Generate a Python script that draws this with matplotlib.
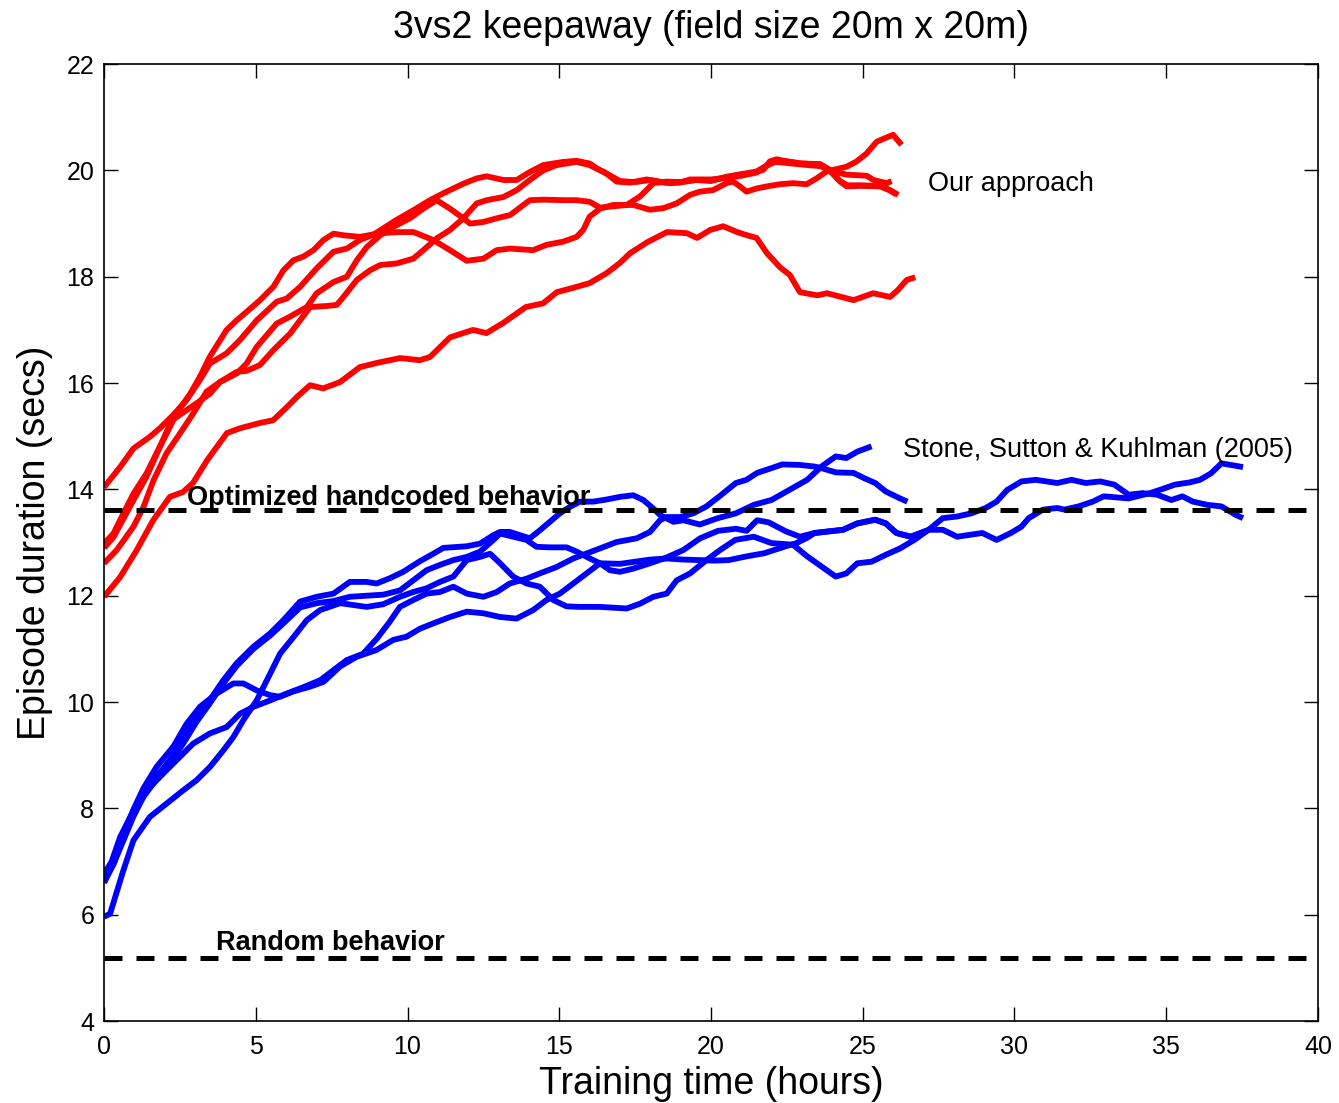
import numpy as np
import matplotlib.pyplot as plt

plt.rcParams['font.family'] = ['Liberation Sans', 'DejaVu Sans']

# red runs (our approach): (hours, secs)
red_a = [(0, 14.04), (0.53, 14.42), (0.97, 14.77), (1.51, 14.99), (1.84, 15.15), (2.28, 15.4),
         (2.72, 15.68), (3.16, 16.06), (3.49, 16.37), (4.04, 16.56), (4.48, 16.81), (5.03, 17.18),
         (5.69, 17.53), (6.02, 17.59), (6.46, 17.81), (7.01, 18.16), (7.56, 18.47), (8.0, 18.53),
         (8.43, 18.69), (8.9, 18.8), (9.64, 19.07), (10.19, 19.25), (10.74, 19.44), (11.18, 19.57),
         (11.84, 19.75), (12.28, 19.85), (12.61, 19.89), (13.16, 19.82), (13.6, 19.82), (14.03, 19.97),
         (14.47, 20.1), (15.13, 20.16), (15.57, 20.18), (16.0, 20.13), (16.23, 20.04), (16.56, 19.94),
         (16.89, 19.79), (17.33, 19.77), (17.88, 19.83), (18.21, 19.79), (18.65, 19.76), (18.98, 19.77),
         (19.31, 19.83), (19.63, 19.83), (20.07, 19.82), (20.51, 19.87), (20.95, 19.92), (21.39, 19.95),
         (21.72, 20.01), (21.94, 20.17), (22.16, 20.21), (22.49, 20.17), (22.93, 20.13), (23.59, 20.12),
         (23.92, 20.01), (24.25, 19.79), (24.47, 19.7), (24.91, 19.71), (25.57, 19.7), (25.9, 19.63),
         (26.17, 19.54)]
red_b = [(0, 12.98), (0.31, 13.17), (0.64, 13.55), (0.97, 13.92), (1.4, 14.3), (1.73, 14.68),
         (2.06, 15.05), (2.39, 15.43), (2.84, 15.8), (3.16, 16.12), (3.49, 16.5), (4.04, 17.0),
         (4.37, 17.18), (4.7, 17.34), (5.14, 17.56), (5.58, 17.81), (5.91, 18.12), (6.24, 18.31),
         (6.57, 18.38), (6.9, 18.5), (7.23, 18.69), (7.56, 18.81), (7.89, 18.78), (8.43, 18.75),
         (9.1, 18.82), (9.7, 18.84), (10.2, 18.84), (10.85, 18.69), (11.4, 18.5), (11.95, 18.3),
         (12.5, 18.34), (12.94, 18.5), (13.38, 18.53), (14.14, 18.5), (14.58, 18.6), (15.13, 18.66),
         (15.57, 18.75), (15.79, 18.88), (16.0, 19.13), (16.34, 19.28), (16.77, 19.35), (17.44, 19.35),
         (17.99, 19.26), (18.43, 19.29), (18.87, 19.38), (19.31, 19.54), (19.63, 19.6), (20.07, 19.63),
         (20.51, 19.76), (20.73, 19.79), (20.95, 19.7), (21.17, 19.6), (21.5, 19.66), (21.94, 19.71),
         (22.27, 19.74), (22.71, 19.76), (23.15, 19.74), (23.48, 19.85), (23.81, 19.98), (24.03, 20.01),
         (24.47, 20.07), (24.8, 20.17), (25.13, 20.32), (25.46, 20.54), (26.0, 20.67), (26.28, 20.48)]
red_c = [(0, 12.61), (0.42, 12.86), (0.97, 13.3), (1.3, 13.67), (1.63, 14.17), (2.06, 14.68),
         (2.5, 15.05), (2.94, 15.43), (3.38, 15.84), (3.82, 16.02), (4.37, 16.18), (4.7, 16.37),
         (5.03, 16.68), (5.69, 17.12), (6.13, 17.25), (6.68, 17.43), (7.01, 17.69), (7.56, 17.9),
         (8.0, 18.0), (8.33, 18.31), (8.66, 18.56), (9.1, 18.78), (9.64, 18.97), (10.08, 19.1),
         (10.52, 19.28), (10.96, 19.44), (11.4, 19.28), (11.84, 19.1), (12.06, 19.0), (12.5, 19.03),
         (12.94, 19.1), (13.38, 19.16), (13.82, 19.35), (14.03, 19.44), (14.47, 19.45), (15.13, 19.44),
         (15.57, 19.44), (16.0, 19.41), (16.34, 19.3), (17.22, 19.35), (17.66, 19.51), (18.1, 19.76),
         (18.54, 19.79), (19.0, 19.78), (19.5, 19.82), (20.0, 19.8), (20.5, 19.88), (21.0, 19.93),
         (21.5, 19.98), (21.8, 20.08), (22.1, 20.16), (22.5, 20.14), (23.0, 20.11), (23.6, 20.08),
         (24.03, 19.98), (24.47, 19.92), (25.13, 19.9), (25.35, 19.82), (25.79, 19.76), (25.95, 19.8)]
red_d = [(0, 12.9), (0.31, 13.1), (0.97, 13.8), (1.4, 14.24), (1.84, 14.8), (2.23, 15.3),
         (2.72, 15.49), (3.05, 15.62), (3.49, 15.8), (3.82, 16.02), (4.37, 16.21), (4.7, 16.23),
         (5.14, 16.34), (5.58, 16.62), (6.13, 16.93), (6.79, 17.43), (7.34, 17.45), (7.67, 17.47),
         (7.89, 17.62), (8.33, 17.94), (8.76, 18.12), (9.1, 18.22), (9.64, 18.25), (10.19, 18.34),
         (10.52, 18.5), (10.96, 18.72), (11.4, 18.88), (11.84, 19.1), (12.28, 19.38), (12.61, 19.44),
         (13.16, 19.5), (13.6, 19.63), (14.03, 19.82), (14.47, 20.0), (14.91, 20.1), (15.57, 20.16),
         (16.0, 20.1), (16.5, 19.96), (17.0, 19.8), (17.5, 19.78), (18.0, 19.82), (18.5, 19.77),
         (19.0, 19.78), (19.5, 19.82), (20.0, 19.83), (20.5, 19.86), (21.0, 19.9), (21.5, 19.96),
         (22.0, 20.15), (22.5, 20.17), (23.0, 20.13), (23.6, 20.11), (23.9, 20.0), (24.25, 19.8),
         (24.5, 19.72), (25.0, 19.72), (25.6, 19.7), (25.9, 19.62), (26.1, 19.55)]
red_e = [(0, 11.98), (0.53, 12.35), (1.08, 12.86), (1.62, 13.42), (2.17, 13.86), (2.6, 13.95),
         (2.93, 14.12), (3.4, 14.55), (4.05, 15.06), (4.48, 15.15), (5.14, 15.25), (5.57, 15.3),
         (6.03, 15.55), (6.36, 15.74), (6.79, 15.96), (7.22, 15.9), (7.78, 16.02), (8.43, 16.3),
         (9.0, 16.38), (9.75, 16.47), (10.4, 16.43), (10.74, 16.49), (11.4, 16.86), (12.16, 17.0),
         (12.6, 16.94), (13.15, 17.13), (13.9, 17.43), (14.47, 17.5), (14.92, 17.71), (15.45, 17.79),
         (16.0, 17.88), (16.57, 18.07), (17.0, 18.26), (17.33, 18.44), (17.9, 18.65), (18.55, 18.84),
         (19.2, 18.82), (19.54, 18.73), (19.97, 18.88), (20.4, 18.95), (20.86, 18.84), (21.19, 18.78),
         (21.5, 18.73), (21.85, 18.44), (22.27, 18.18), (22.6, 18.03), (22.93, 17.71), (23.5, 17.65),
         (23.82, 17.69), (24.7, 17.56), (25.34, 17.69), (25.9, 17.62), (26.16, 17.75), (26.45, 17.94),
         (26.73, 17.99)]

# blue runs (Stone, Sutton & Kuhlman 2005)
blue_a = [(0, 6.78), (0.31, 7.03), (0.64, 7.47), (0.97, 7.91), (1.3, 8.28), (1.73, 8.6), (2.17, 8.91),
          (2.61, 9.29), (3.05, 9.72), (3.49, 10.04), (3.93, 10.41), (4.37, 10.73), (4.92, 11.04),
          (5.47, 11.29), (5.91, 11.54), (6.46, 11.89), (7.01, 11.98), (7.56, 12.04), (8.1, 12.26),
          (8.65, 12.26), (8.98, 12.23), (9.42, 12.33), (9.86, 12.45), (10.41, 12.65), (10.85, 12.79),
          (11.18, 12.9), (11.95, 12.93), (12.39, 12.98), (12.83, 13.14), (13.05, 13.2), (13.37, 13.2),
          (13.7, 13.14), (14.03, 13.08), (14.36, 13.23), (14.69, 13.39), (15.02, 13.55), (15.35, 13.67),
          (15.68, 13.77), (16.12, 13.77), (16.56, 13.81), (17.0, 13.86), (17.44, 13.89), (17.77, 13.8),
          (18.1, 13.64), (18.32, 13.52), (18.76, 13.39), (19.09, 13.42), (19.63, 13.34), (20.23, 13.46),
          (20.82, 13.55), (21.41, 13.71), (21.99, 13.8), (22.58, 13.99), (23.17, 14.18), (23.64, 14.43),
          (24.11, 14.62), (24.46, 14.59), (24.82, 14.71), (25.29, 14.81)]
blue_b = [(0, 6.6), (0.31, 6.95), (0.64, 7.5), (0.97, 7.98), (1.3, 8.38), (1.73, 8.78), (2.28, 9.16),
          (2.72, 9.59), (3.16, 9.91), (3.71, 10.16), (4.26, 10.35), (4.59, 10.35), (5.03, 10.22),
          (5.47, 10.13), (5.8, 10.1), (6.24, 10.2), (6.79, 10.29), (7.23, 10.38), (7.78, 10.67),
          (8.32, 10.85), (8.98, 10.98), (9.53, 11.17), (9.97, 11.23), (10.41, 11.38), (10.85, 11.48),
          (11.4, 11.6), (11.95, 11.7), (12.5, 11.67), (13.05, 11.6), (13.59, 11.57), (14.14, 11.73),
          (14.58, 11.92), (15.02, 12.04), (15.46, 12.23), (15.9, 12.42), (16.34, 12.61), (17.0, 12.6),
          (17.5, 12.64), (18.0, 12.68), (18.54, 12.7), (19.09, 12.68), (19.64, 12.67), (20.1, 12.66),
          (20.58, 12.67), (21.17, 12.74), (21.76, 12.8), (22.46, 12.93), (22.82, 12.99), (23.2, 13.1),
          (23.41, 13.18), (24.35, 13.24), (24.82, 13.36), (25.41, 13.43), (25.76, 13.36), (26.11, 13.18),
          (26.58, 13.11), (27.1, 13.22)]
blue_c = [(0, 5.96), (0.2, 6.02), (0.64, 6.84), (0.97, 7.4), (1.51, 7.84), (2.06, 8.09), (2.61, 8.34),
          (3.05, 8.53), (3.49, 8.78), (3.93, 9.09), (4.26, 9.34), (4.59, 9.66), (5.03, 10.03),
          (5.47, 10.53), (5.8, 10.91), (6.24, 11.22), (6.68, 11.54), (7.12, 11.73), (7.78, 11.86),
          (8.65, 11.79), (9.2, 11.84), (9.75, 11.98), (10.19, 12.07), (10.63, 12.14), (11.07, 12.26),
          (11.51, 12.36), (11.95, 12.67), (12.39, 12.73), (12.72, 12.79), (13.05, 12.61), (13.48, 12.36),
          (13.92, 12.23), (14.36, 12.17), (14.8, 11.92), (15.24, 11.8), (15.68, 11.79), (16.34, 11.79),
          (17.22, 11.76), (17.66, 11.85), (18.1, 11.98), (18.54, 12.04), (18.87, 12.29), (19.31, 12.42),
          (19.85, 12.67), (20.3, 12.86), (20.8, 13.05), (21.41, 13.11), (21.99, 12.99), (22.7, 12.96),
          (23.17, 12.74), (23.64, 12.55), (24.11, 12.36), (24.46, 12.42), (24.82, 12.61), (25.29, 12.64),
          (25.76, 12.77), (26.23, 12.89), (26.7, 13.05), (27.17, 13.24), (27.64, 13.46), (28.11, 13.49),
          (28.58, 13.55), (29.05, 13.65), (29.41, 13.77), (29.76, 13.99), (30.23, 14.15), (30.7, 14.18),
          (31.41, 14.12), (31.88, 14.18), (32.35, 14.12), (32.82, 14.15), (33.29, 14.09), (33.76, 13.9),
          (34.23, 13.93), (34.7, 13.9), (35.17, 13.8), (35.53, 13.87), (35.88, 13.77), (36.35, 13.71),
          (36.82, 13.68), (37.29, 13.52), (37.53, 13.46)]
blue_d = [(0, 6.68), (0.31, 6.95), (0.64, 7.4), (0.97, 7.85), (1.3, 8.22), (1.73, 8.55), (2.17, 8.86),
          (2.61, 9.22), (3.05, 9.63), (3.49, 9.98), (3.93, 10.35), (4.37, 10.68), (4.92, 11.0),
          (5.47, 11.25), (5.91, 11.48), (6.46, 11.78), (7.01, 11.86), (7.56, 11.9), (8.1, 11.98),
          (8.65, 12.0), (9.2, 12.02), (9.75, 12.1), (10.19, 12.29), (10.63, 12.48), (11.07, 12.58),
          (11.51, 12.67), (11.95, 12.73), (12.39, 12.83), (12.83, 13.05), (13.05, 13.17), (13.48, 13.11),
          (13.92, 13.05), (14.25, 12.92), (14.69, 12.91), (15.24, 12.91), (15.57, 12.83), (16.01, 12.7),
          (16.34, 12.61), (16.67, 12.48), (17.0, 12.45), (17.44, 12.51), (17.99, 12.61), (18.54, 12.72),
          (19.09, 12.86), (19.64, 13.08), (20.23, 13.22), (20.82, 13.26), (21.17, 13.22), (21.52, 13.42),
          (21.9, 13.38), (22.47, 13.21), (22.93, 13.11), (23.41, 13.18), (24.35, 13.24), (24.82, 13.36),
          (25.41, 13.43), (25.76, 13.36), (26.11, 13.18), (26.58, 13.11), (27.17, 13.24), (27.64, 13.24),
          (28.11, 13.11), (28.58, 13.15), (28.94, 13.18), (29.41, 13.05), (29.88, 13.18), (30.23, 13.3),
          (30.47, 13.46), (30.94, 13.62), (31.41, 13.65), (31.64, 13.62), (32.11, 13.68), (32.58, 13.77),
          (32.94, 13.87), (33.76, 13.83), (34.47, 13.93), (34.94, 14.02), (35.29, 14.09), (35.76, 14.13),
          (36.11, 14.18), (36.47, 14.3), (36.82, 14.49), (37.53, 14.42)]
blue_e = [(0, 6.72), (0.25, 7.0), (0.53, 7.46), (0.97, 7.96), (1.51, 8.4), (2.06, 8.72), (2.5, 8.97),
          (2.94, 9.22), (3.49, 9.41), (4.04, 9.53), (4.48, 9.78), (4.92, 9.91), (5.47, 10.03),
          (6.02, 10.16), (6.57, 10.28), (7.12, 10.41), (7.56, 10.6), (8.0, 10.79), (8.54, 10.91),
          (9.0, 11.2), (9.4, 11.5), (9.75, 11.79), (10.19, 11.92), (10.63, 12.04), (11.07, 12.07),
          (11.51, 12.17), (11.95, 12.04), (12.5, 11.98), (12.94, 12.07), (13.37, 12.23), (13.92, 12.32),
          (14.36, 12.42), (14.91, 12.54), (15.46, 12.7), (16.34, 12.89), (16.89, 13.01), (17.55, 13.08),
          (17.99, 13.2), (18.32, 13.42), (18.54, 13.48), (18.98, 13.48), (19.42, 13.55), (19.85, 13.68),
          (20.3, 13.88), (20.82, 14.12), (21.17, 14.18), (21.52, 14.31), (21.99, 14.4), (22.35, 14.47),
          (22.93, 14.46), (23.41, 14.43), (23.64, 14.4), (24.11, 14.32), (24.7, 14.31), (25.05, 14.21),
          (25.41, 14.12), (25.76, 13.96), (26.23, 13.83), (26.47, 13.77)]

red_runs = [red_a, red_b, red_c, red_d, red_e]
blue_runs = [blue_a, blue_b, blue_c, blue_d, blue_e]

handcoded_level = 13.61
random_level = 5.18

fig = plt.figure(figsize=(13.39, 11.03), dpi=100)
ax = fig.add_axes([0.0777, 0.0743, 0.9066, 0.8676])

for run in red_runs:
    pts = np.array(run)
    ax.plot(pts[:, 0], pts[:, 1], color='#ff0000', lw=4.2,
            solid_joinstyle='round', solid_capstyle='butt')
for run in blue_runs:
    pts = np.array(run)
    ax.plot(pts[:, 0], pts[:, 1], color='#0000ff', lw=4.2,
            solid_joinstyle='round', solid_capstyle='butt')

ax.axhline(handcoded_level, color='black', lw=3.6, linestyle=(0, (3.6, 2.8)))
ax.axhline(random_level, color='black', lw=3.6, linestyle=(0, (3.6, 2.8)))

ax.text(2.73, 13.7, 'Optimized handcoded behavior', fontsize=19.5, fontweight='bold')
ax.text(3.69, 5.34, 'Random behavior', fontsize=19.5, fontweight='bold')
ax.text(27.15, 19.74, 'Our approach', fontsize=19.5, va='center')
ax.text(26.33, 14.74, 'Stone, Sutton & Kuhlman (2005)', fontsize=19.5, va='center')

ax.set_xlim(0, 40)
ax.set_ylim(4, 22)
ax.set_xticks(np.arange(0, 41, 5))
ax.set_yticks(np.arange(4, 23, 2))
ax.tick_params(direction='in', length=10, width=1, top=True, right=True, labelsize=18)
ax.tick_params(axis='x', pad=10)
ax.tick_params(axis='y', pad=7)
for s in ax.spines.values():
    s.set_linewidth(1.2)

ax.set_xlabel('Training time (hours)', fontsize=27, labelpad=5)
ax.set_ylabel('Episode duration (secs)', fontsize=27, labelpad=10)
ax.set_title('3vs2 keepaway (field size 20m x 20m)', fontsize=27, pad=19)

fig.savefig('out.png', dpi=100)
